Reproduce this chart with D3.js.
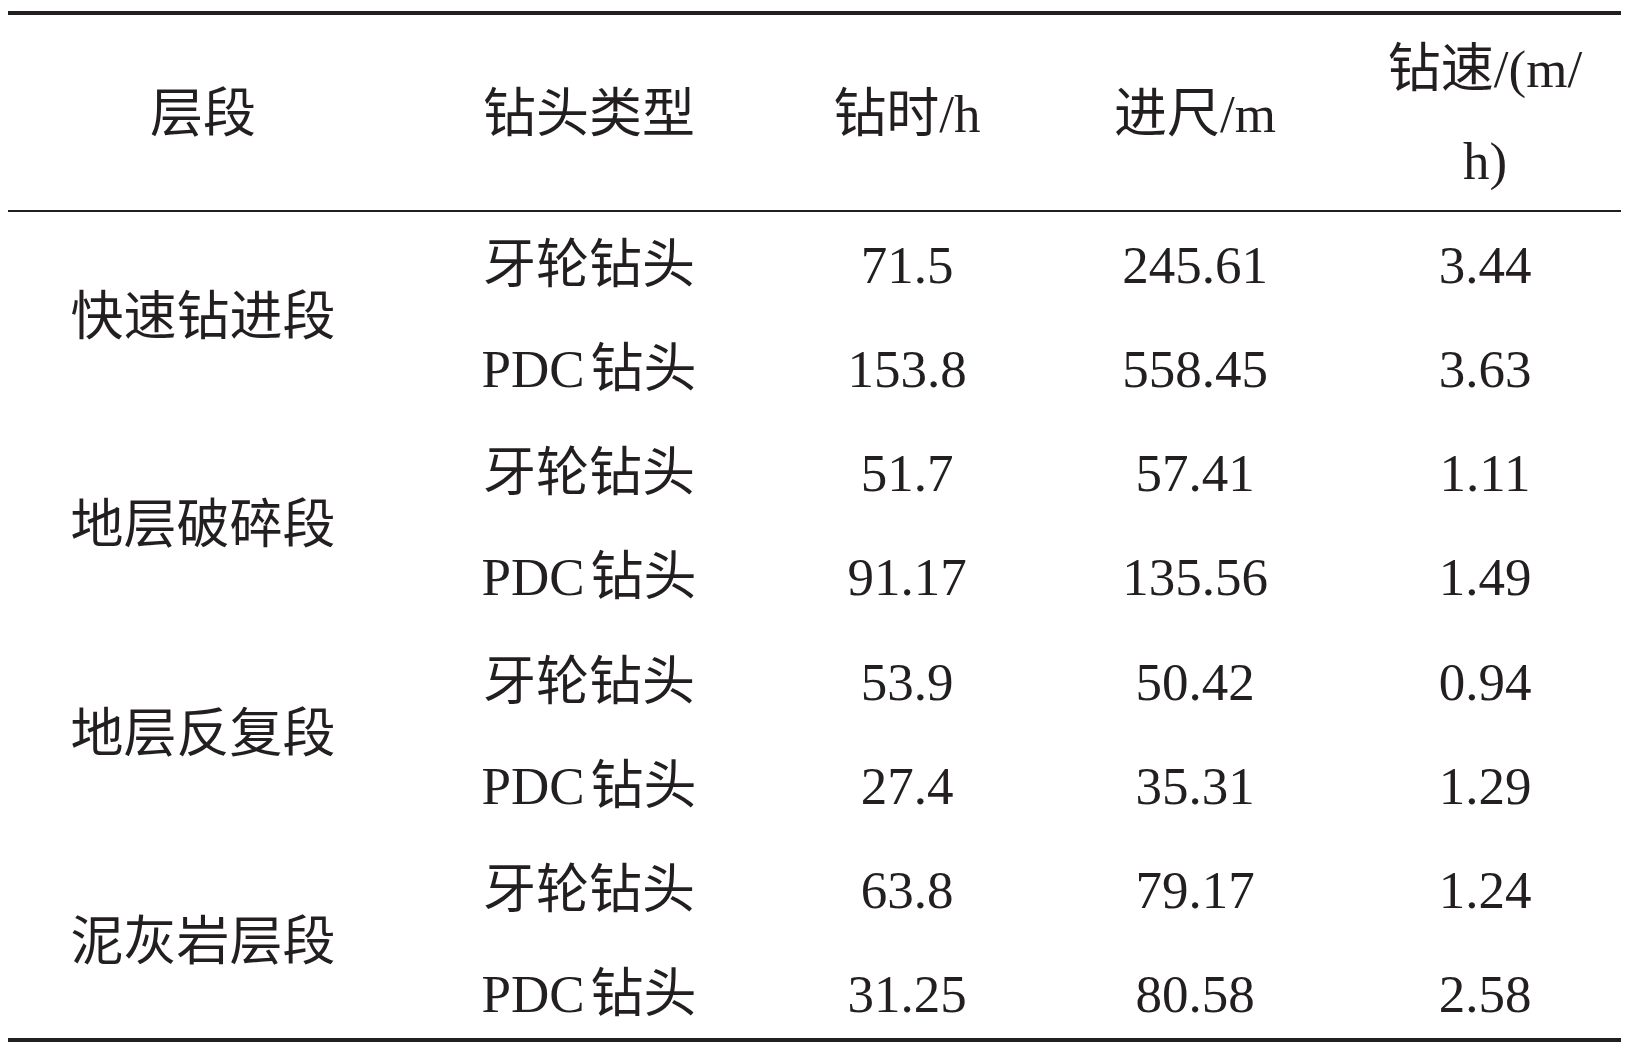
<!DOCTYPE html>
<html>
<head>
<meta charset="utf-8">
<script src="https://cdn.jsdelivr.net/npm/d3@7"></script>
<style>
body { margin: 0; background: #fff; }
text { font-family: "Liberation Serif", "Noto Sans CJK SC", serif; font-size: 53px; fill: #231f20; }
</style>
</head>
<body>
<svg width="1631" height="1052"></svg>
<script>
var headers = ["层段", "钻头类型", "钻时/h", "进尺/m", "钻速/(m/|h)"];
var sections = ["快速钻进段", "地层破碎段", "地层反复段", "泥灰岩层段"];
var bitTypes = ["牙轮钻头", "PDC钻头", "牙轮钻头", "PDC钻头", "牙轮钻头", "PDC钻头", "牙轮钻头", "PDC钻头"];
var drillTime = ["71.5", "153.8", "51.7", "91.17", "53.9", "27.4", "63.8", "31.25"];
var footage = ["245.61", "558.45", "57.41", "135.56", "50.42", "35.31", "79.17", "80.58"];
var rate = ["3.44", "3.63", "1.11", "1.49", "0.94", "1.29", "1.24", "2.58"];

var svg = d3.select("svg");
var colX = d3.scaleOrdinal().domain(d3.range(5)).range([203, 589, 907, 1195, 1485]);
var rowY = d3.scaleBand().domain(d3.range(8)).range([212, 1046]);

// rules
svg.append("line").attr("x1", 8).attr("x2", 1621).attr("y1", 13).attr("y2", 13).attr("stroke", "#231f20").attr("stroke-width", 4);
svg.append("line").attr("x1", 8).attr("x2", 1621).attr("y1", 211).attr("y2", 211).attr("stroke", "#231f20").attr("stroke-width", 2);
svg.append("line").attr("x1", 8).attr("x2", 1621).attr("y1", 1040).attr("y2", 1040).attr("stroke", "#231f20").attr("stroke-width", 4);

// header
headers.forEach(function(h, i) {
  var parts = h.split("|");
  var t = svg.append("text").attr("text-anchor", "middle").attr("x", colX(i));
  if (parts.length === 1) {
    t.attr("y", 113).attr("dy", "0.35em").text(h);
  } else {
    parts.forEach(function(p, j) {
      t.append("tspan").attr("x", colX(i)).attr("y", 68 + j * 92).attr("dy", "0.35em").text(p);
    });
  }
});

// section labels span two rows
svg.selectAll("text.sec").data(sections).enter().append("text")
  .attr("class", "sec").attr("text-anchor", "middle")
  .attr("x", colX(0))
  .attr("y", function(d, i) { return rowY(i * 2) + rowY.bandwidth(); })
  .attr("dy", "0.35em").text(function(d) { return d; });

[bitTypes, drillTime, footage, rate].forEach(function(col, c) {
  var t = svg.selectAll("text.c" + c).data(col).enter().append("text")
    .attr("class", "c" + c).attr("text-anchor", "middle")
    .attr("x", colX(c + 1))
    .attr("y", function(d, i) { return rowY(i) + rowY.bandwidth() / 2; })
    .attr("dy", "0.35em");
  if (c === 0) {
    t.each(function(d) {
      var el = d3.select(this);
      if (d.indexOf("PDC") === 0) {
        el.append("tspan").text("PDC");
        el.append("tspan").attr("dx", 6).text(d.slice(3));
      } else {
        el.text(d);
      }
    });
  } else {
    t.text(function(d) { return d; });
  }
});
</script>
</body>
</html>
